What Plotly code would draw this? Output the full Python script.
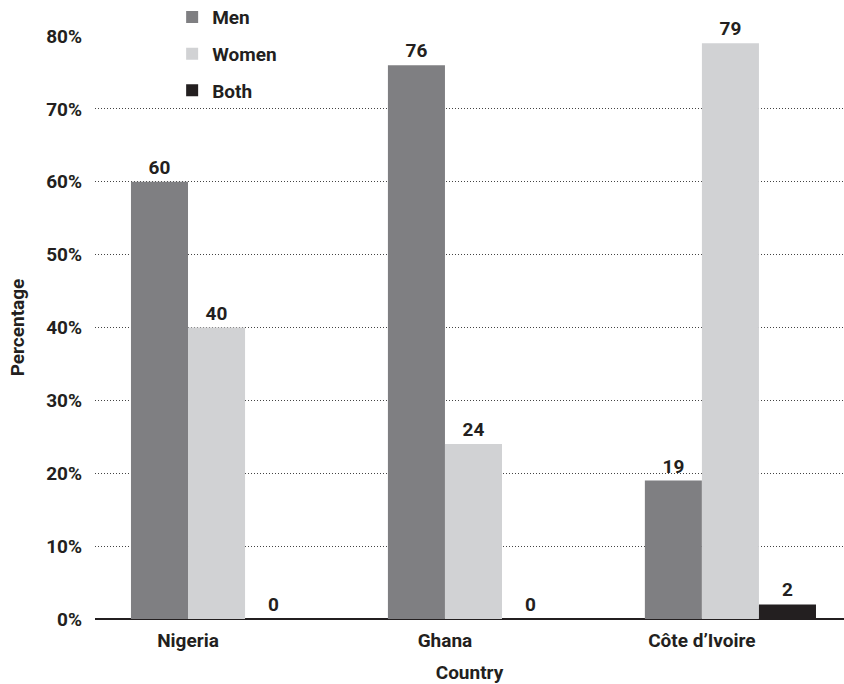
import plotly.graph_objects as go

# Share of respondents by gender, per country
countries = ["Nigeria", "Ghana", "Côte d\u2019Ivoire"]
men = [60, 76, 19]
women = [40, 24, 79]
both = [0, 0, 2]
y_ticks = [0, 10, 20, 30, 40, 50, 60, 70, 80]
y_tick_labels = [f"{v}%" for v in y_ticks]

series = [
    ("Men", men, "#7f7f82", -0.222),
    ("Women", women, "#d1d2d4", 0.0),
    ("Both", both, "#231f20", 0.222),
]

FONT = "Roboto"
INK = "#231f20"
FS = 19
BAR_W = 0.222

x_idx = list(range(len(countries)))


def bold(size=FS):
    return dict(family=FONT, size=size, color=INK, weight="bold")


fig = go.Figure()
for name, vals, color, off in series:
    fig.add_trace(go.Bar(
        name=name,
        x=x_idx,
        y=vals,
        width=BAR_W,
        offset=off,
        marker=dict(color=color, line=dict(width=0)),
        text=[str(v) for v in vals],
        textposition="outside",
        textfont=bold(),
        cliponaxis=False,
        legendgroup=name,
    ))

fig.update_layout(
    width=844,
    height=684,
    margin=dict(l=95, r=0, t=36, b=65, autoexpand=False),
    paper_bgcolor="white",
    plot_bgcolor="white",
    barmode="overlay",
    font=dict(family=FONT, size=FS, color=INK),
    showlegend=True,
    legend=dict(
        x=0.103, y=1.065, xanchor="left", yanchor="top",
        font=bold(),
        tracegroupgap=9,
        bgcolor="rgba(0,0,0,0)",
        itemclick=False,
    ),
    xaxis=dict(
        range=[-0.362, 2.553],
        tickmode="array",
        tickvals=x_idx,
        ticktext=countries,
        tickfont=bold(),
        ticklabelstandoff=8,
        showgrid=False,
        showline=False,
        ticks="",
        zeroline=False,
        title=dict(text="Country", font=bold(), standoff=16),
    ),
    yaxis=dict(
        range=[0, 80],
        tickmode="array",
        tickvals=y_ticks,
        ticktext=y_tick_labels,
        tickfont=bold(),
        ticklabelstandoff=12,
        showgrid=True,
        gridcolor="#444444",
        griddash="1px,2px",
        gridwidth=1,
        zeroline=True,
        zerolinecolor="#231f20",
        zerolinewidth=1.5,
        showline=False,
        ticks="",
        title=dict(text="Percentage", font=bold(), standoff=16),
    ),
)

fig.write_html("out.html")
